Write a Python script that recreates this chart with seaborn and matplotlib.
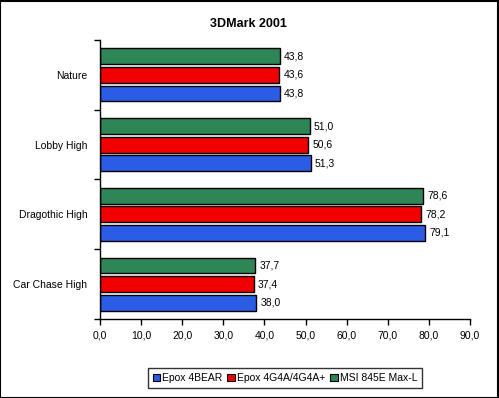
import pandas as pd
import matplotlib
matplotlib.use('Agg')
import matplotlib.pyplot as plt
import seaborn as sns
from matplotlib.patches import Patch, Rectangle
from matplotlib.ticker import FixedLocator

# chart data
tests = ['Nature', 'Lobby High', 'Dragothic High', 'Car Chase High']
boards = ['Epox 4BEAR', 'Epox 4G4A/4G4A+', 'MSI 845E Max-L']
epox_4bear = [43.8, 51.3, 79.1, 38.0]
epox_4g4a = [43.6, 50.6, 78.2, 37.4]
msi_845e = [43.8, 51.0, 78.6, 37.7]
x_ticks = [0, 10, 20, 30, 40, 50, 60, 70, 80, 90]

colors = {'Epox 4BEAR': '#2b5ce6', 'Epox 4G4A/4G4A+': '#f00000', 'MSI 845E Max-L': '#2e8555'}

rows = []
for board, vals in zip(boards, [epox_4bear, epox_4g4a, msi_845e]):
    for test, v in zip(tests, vals):
        rows.append({'test': test, 'board': board, 'score': v})
df = pd.DataFrame(rows)

sns.set_style('white', {'text.color': 'black', 'xtick.color': 'black', 'ytick.color': 'black',
                        'axes.edgecolor': 'black', 'axes.labelcolor': 'black'})
plt.rcParams['font.family'] = ['Liberation Sans', 'DejaVu Sans']
fs = 7.5

fig = plt.figure(figsize=(4.99, 3.98), dpi=100)
ax = fig.add_axes([0.2004, 0.1985, 0.7415, 0.701])

# green on top inside each group, blue at the bottom
draw_order = boards[::-1]
sns.barplot(data=df, x='score', y='test', hue='board', order=tests, hue_order=draw_order,
            palette=colors, saturation=1, orient='h', width=0.8, gap=0.15, edgecolor='black',
            linewidth=1.0, ax=ax, legend=False)

for container in ax.containers:
    ax.bar_label(container, labels=[f'{v:.1f}'.replace('.', ',') for v in container.datavalues],
                 padding=3, fontsize=fs, color='black')

ax.set_xlim(0, 90)
ax.set_ylim(3.5, -0.5)
ax.set_xticks(x_ticks)
ax.set_xticklabels([f'{t:.1f}'.replace('.', ',') for t in x_ticks], fontsize=fs)
ax.yaxis.set_minor_locator(FixedLocator([-0.5, 0.5, 1.5, 2.5, 3.5]))
ax.tick_params(axis='y', which='major', length=0, labelsize=fs, pad=9)
ax.tick_params(axis='y', which='minor', length=4, width=1, direction='out', left=True)
ax.tick_params(axis='x', which='major', length=4, width=1, direction='out', bottom=True, pad=4)
ax.set_xlabel('')
ax.set_ylabel('')
for side in ['top', 'right']:
    ax.spines[side].set_visible(False)
for side in ['left', 'bottom']:
    ax.spines[side].set_color('black')
    ax.spines[side].set_linewidth(1)

fig.text(0.497, 0.94, '3DMark 2001', ha='center', va='center', fontsize=9, fontweight='bold')

handles = [Patch(facecolor=colors[b], edgecolor='black', linewidth=0.8) for b in boards]
leg = fig.legend(handles, boards, loc='center', bbox_to_anchor=(0.571, 0.05), ncol=3,
                 fontsize=fs, handlelength=0.7, handleheight=0.7, handletextpad=0.2,
                 columnspacing=0.5, borderpad=0.45, frameon=True, fancybox=False)
leg.get_frame().set_edgecolor('black')
leg.get_frame().set_linewidth(1)

fig.patches.append(Rectangle((0.001, 0.001), 0.997, 0.997, transform=fig.transFigure,
                             fill=False, edgecolor='black', linewidth=1.5))

fig.savefig('out.png', dpi=100)
